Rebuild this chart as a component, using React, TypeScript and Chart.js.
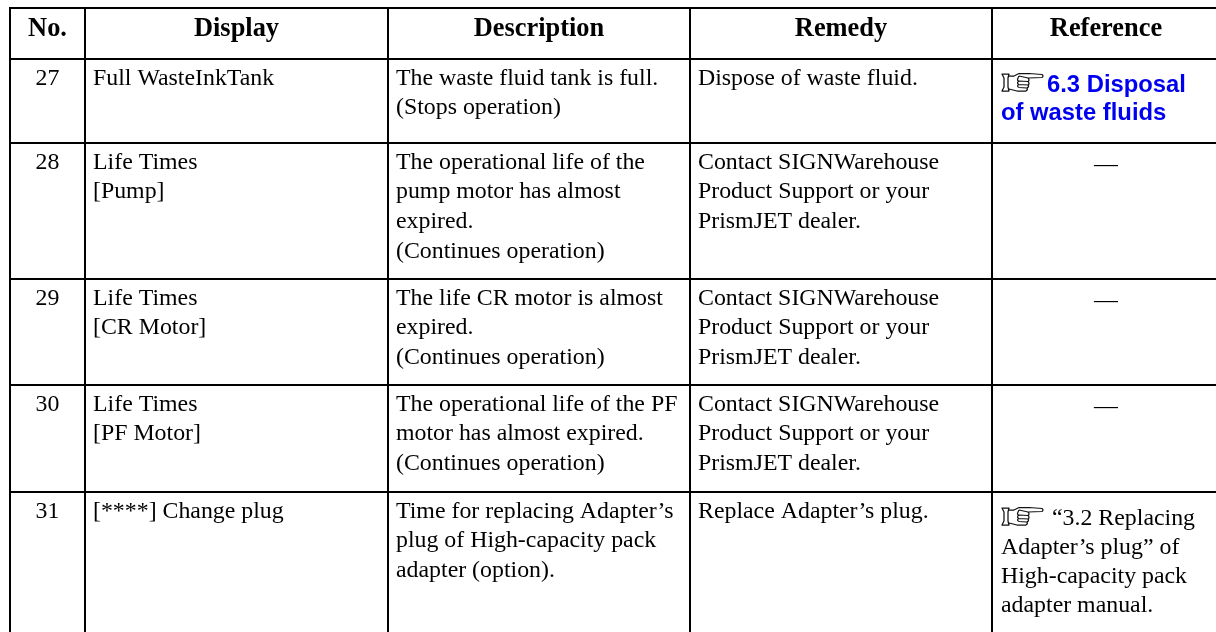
import React, { useEffect, useRef } from "react";
import { Chart, registerables } from "chart.js";

Chart.register(...registerables);

const columnEdges = [10, 85, 388, 690, 992];
const rowEdges = [8, 59, 143, 279, 385, 492];
const headers = ["No.", "Display", "Description", "Remedy", "Reference"];
const numbers = ["27", "28", "29", "30", "31"];
const displays = [
  ["Full WasteInkTank"],
  ["Life Times", "[Pump]"],
  ["Life Times", "[CR Motor]"],
  ["Life Times", "[PF Motor]"],
  ["[****] Change plug"],
];
const descriptions = [
  ["The waste fluid tank is full.", "(Stops operation)"],
  ["The operational life of the", "pump motor has almost", "expired.", "(Continues operation)"],
  ["The life CR motor is almost", "expired.", "(Continues operation)"],
  ["The operational life of the PF", "motor has almost expired.", "(Continues operation)"],
  ["Time for replacing Adapter’s", "plug of High-capacity pack", "adapter (option)."],
];
const contact = ["Contact SIGNWarehouse", "Product Support or your", "PrismJET dealer."];
const remedies = [
  ["Dispose of waste fluid."],
  contact,
  contact,
  contact,
  ["Replace Adapter’s plug."],
];
const dash = "—";
const linkLines = ["6.3 Disposal", "of waste fluids"];
const refLines = ["“3.2 Replacing", "Adapter’s plug” of", "High-capacity pack", "adapter manual."];

const SERIF = '"Liberation Serif"';
const SANS = '"Liberation Sans"';
const FS = 23.85;
const LH = 29.8;
const refCentre = 1106;

function hand(ctx: CanvasRenderingContext2D, x: number, y: number) {
  ctx.save();
  ctx.translate(x, y);
  ctx.strokeStyle = "#111";
  ctx.lineWidth = 1.25;
  ctx.lineJoin = "round";
  ctx.beginPath();
  // cuff
  ctx.moveTo(1, 1); ctx.lineTo(8, 1); ctx.lineTo(7, 5); ctx.lineTo(7, 14); ctx.lineTo(8, 18); ctx.lineTo(1, 18);
  ctx.lineTo(3, 14); ctx.lineTo(3, 5); ctx.closePath();
  // back of hand and pointing finger
  ctx.moveTo(8, 3); ctx.lineTo(13, 3); ctx.lineTo(18, 0.5); ctx.lineTo(28, 0.5); ctx.lineTo(41, 1.5);
  ctx.quadraticCurveTo(43, 3, 41, 4.5); ctx.lineTo(27, 5);
  ctx.moveTo(8, 16); ctx.lineTo(16, 18); ctx.lineTo(25, 18); ctx.quadraticCurveTo(27, 17, 26, 15);
  // curled fingers
  ctx.moveTo(18, 3); ctx.lineTo(27, 5); ctx.quadraticCurveTo(29, 7, 27, 8.5); ctx.lineTo(18, 8);
  ctx.moveTo(27, 8.5); ctx.quadraticCurveTo(29, 10.5, 27, 12); ctx.lineTo(18, 11.5);
  ctx.moveTo(27, 12); ctx.quadraticCurveTo(28.5, 13.5, 26, 15); ctx.lineTo(18, 14.5);
  ctx.moveTo(18, 3); ctx.quadraticCurveTo(15, 8, 18, 8); ctx.moveTo(18, 8); ctx.quadraticCurveTo(15, 10, 18, 11.5);
  ctx.moveTo(18, 11.5); ctx.quadraticCurveTo(15, 13, 18, 14.5);
  ctx.stroke();
  ctx.restore();
}

const tablePlugin = {
  id: "tableText",
  afterDraw(chart: any) {
    const { ctx, scales } = chart;
    const X = (v: number) => scales.x.getPixelForValue(v);
    const Y = (v: number) => scales.y.getPixelForValue(v);
    const put = (s: string, x: number, y: number, font: string, align: CanvasTextAlign = "left", color = "#000") => {
      ctx.font = font;
      ctx.textAlign = align;
      ctx.fillStyle = color;
      ctx.textBaseline = "alphabetic";
      ctx.fillText(s, x, y);
    };
    ctx.save();
    headers.forEach((h, i) => {
      const cx = i === 4 ? X(refCentre) : (X(columnEdges[i]) + X(columnEdges[i + 1])) / 2;
      put(h, cx, Y(rowEdges[0]) + 28, `bold 26.4px ${SERIF}`, "center");
    });
    numbers.forEach((n, r) => {
      const base = Y(rowEdges[r + 1]) + 25.5;
      put(n, (X(columnEdges[0]) + X(columnEdges[1])) / 2, base, `${FS}px ${SERIF}`, "center");
      displays[r].forEach((s, l) => put(s, X(columnEdges[1]) + 8, base + l * LH, `${FS}px ${SERIF}`));
      descriptions[r].forEach((s, l) => put(s, X(columnEdges[2]) + 8, base + l * LH, `${FS}px ${SERIF}`));
      remedies[r].forEach((s, l) => put(s, X(columnEdges[3]) + 8, base + l * LH, `${FS}px ${SERIF}`));
      if (r >= 1 && r <= 3) {
        put(dash, X(refCentre), base + 2, `${FS}px ${SERIF}`, "center");
      }
    });
    const cx = X(columnEdges[4]) + 9;
    const r0 = Y(rowEdges[1]);
    hand(ctx, cx, r0 + 14);
    put(linkLines[0], cx + 46, r0 + 33, `bold 23.8px ${SANS}`, "left", "#0000f0");
    put(linkLines[1], cx, r0 + 61, `bold 23.8px ${SANS}`, "left", "#0000f0");
    const r4 = Y(rowEdges[5]);
    hand(ctx, cx, r4 + 15);
    put(refLines[0], cx + 51, r4 + 33, `${FS}px ${SERIF}`);
    refLines.slice(1).forEach((s, l) => put(s, cx, r4 + 33 + (l + 1) * 29, `${FS}px ${SERIF}`));
    ctx.restore();
  },
};

export default function App() {
  const ref = useRef<HTMLCanvasElement>(null);
  useEffect(() => {
    document.body.style.margin = "0";
    document.body.style.background = "#fff";
    const chart = new Chart(ref.current!, {
      type: "scatter",
      data: { datasets: [{ data: [], pointRadius: 0 }] },
      plugins: [tablePlugin],
      options: {
        animation: false,
        responsive: false,
        layout: { padding: { left: 9, top: 7, right: 0, bottom: 0 } },
        plugins: { legend: { display: false }, title: { display: false }, tooltip: { enabled: false } },
        scales: {
          x: {
            type: "linear",
            min: 9,
            max: 1216,
            border: { display: false },
            grid: { color: "#000", lineWidth: 2, drawTicks: false, z: 1 },
            ticks: { display: false },
            afterBuildTicks: (s: any) => {
              s.ticks = columnEdges.map((value) => ({ value }));
            },
          },
          y: {
            type: "linear",
            reverse: true,
            min: 7,
            max: 632,
            border: { display: false },
            grid: { color: "#000", lineWidth: 2, drawTicks: false, z: 1 },
            ticks: { display: false },
            afterBuildTicks: (s: any) => {
              s.ticks = rowEdges.map((value) => ({ value }));
            },
          },
        },
      },
    } as any);
    return () => chart.destroy();
  }, []);
  return <canvas ref={ref} width={1216} height={632} style={{ display: "block" }} />;
}
